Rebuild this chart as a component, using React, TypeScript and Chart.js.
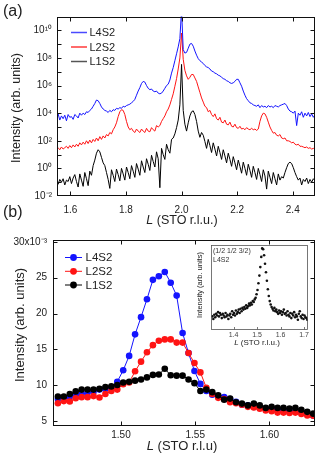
import { useEffect, useRef } from 'react';
import { Chart, registerables } from 'chart.js';

Chart.register(...registerables);

// ---------- Panel (a): L scans, log10 of intensity ----------
const L_A = [
  1.550,1.556,1.562,1.568,1.574,1.580,1.586,1.592,1.598,1.604,
  1.610,1.616,1.622,1.628,1.634,1.640,1.646,1.652,1.658,1.664,
  1.670,1.676,1.682,1.688,1.694,1.700,1.706,1.712,1.718,1.724,
  1.730,1.736,1.742,1.748,1.754,1.760,1.766,1.772,1.778,1.784,
  1.790,1.796,1.802,1.808,1.814,1.820,1.826,1.832,1.838,1.844,
  1.850,1.856,1.862,1.868,1.874,1.880,1.886,1.892,1.898,1.904,
  1.910,1.916,1.922,1.928,1.934,1.940,1.946,1.952,1.958,1.964,
  1.970,1.976,1.982,1.988,1.994,2.000,2.006,2.012,2.018,2.024,
  2.030,2.036,2.042,2.048,2.054,2.060,2.066,2.072,2.078,2.084,
  2.090,2.096,2.102,2.108,2.114,2.120,2.126,2.132,2.138,2.144,
  2.150,2.156,2.162,2.168,2.174,2.180,2.186,2.192,2.198,2.204,
  2.210,2.216,2.222,2.228,2.234,2.240,2.246,2.252,2.258,2.264,
  2.270,2.276,2.282,2.288,2.294,2.300,2.306,2.312,2.318,2.324,
  2.330,2.336,2.342,2.348,2.354,2.360,2.366,2.372,2.378,2.384,
  2.390,2.396,2.402,2.408,2.414,2.420,2.426,2.432,2.438,2.444,
  2.450,2.456,2.462,2.468,2.474,2.480,
];

const L4S2_LOG = [
  3.7,3.95,3.5,3.8,3.6,3.85,3.45,3.9,3.7,3.75,
  3.55,3.9,3.8,3.65,4.0,3.85,4.0,3.9,4.1,4.05,
  4.2,4.3,4.5,4.7,4.95,4.9,4.7,4.45,4.3,4.2,
  4.15,4.05,4.2,4.1,4.25,4.2,4.35,4.3,4.4,4.35,
  4.5,4.45,4.55,4.6,4.65,4.75,4.85,5.0,5.3,5.6,
  5.85,6.15,6.3,6.25,6.0,5.8,5.7,5.75,5.6,5.55,
  5.6,5.45,5.4,5.45,5.6,5.8,6.0,6.1,6.4,6.9,
  7.3,7.8,8.3,8.8,9.4,11.5,8.6,8.35,8.4,8.7,
  9.0,9.05,8.85,8.5,8.2,7.95,7.8,7.7,7.6,7.45,
  7.35,7.3,7.2,7.05,7.0,6.9,6.85,6.75,6.7,6.6,
  6.5,6.45,6.35,6.3,6.2,6.15,6.2,6.3,6.45,6.45,
  6.2,5.95,5.6,5.3,5.05,4.9,4.75,4.7,4.6,4.55,
  4.5,4.6,4.4,4.55,4.45,4.5,4.4,4.55,4.45,4.5,
  4.4,4.55,4.5,4.45,4.55,4.6,4.65,4.7,4.55,4.3,
  4.15,4.1,4.0,4.15,3.1,4.0,3.85,4.1,3.7,4.0,
  3.8,4.05,3.75,3.95,3.7,3.9,
];

const L2S2_LOG = [
  1.4,1.5,1.35,1.55,1.4,1.5,1.6,1.45,1.65,1.5,
  1.7,1.55,1.75,1.6,1.85,1.7,1.9,1.75,2.0,1.8,
  2.05,1.85,2.1,1.95,2.2,2.0,2.3,2.1,2.35,2.2,
  2.45,2.35,2.6,2.5,2.8,3.0,3.3,3.75,4.1,4.25,
  4.2,3.9,3.4,3.0,2.8,2.9,2.7,2.6,2.85,2.7,
  2.6,2.85,2.7,2.6,2.9,2.7,2.65,2.95,2.8,2.7,
  3.1,3.0,3.1,3.4,3.6,3.8,4.1,4.3,4.6,5.0,
  5.4,5.95,6.5,7.2,8.0,9.8,7.9,7.1,6.7,6.45,
  6.6,6.8,6.8,6.55,6.3,5.9,5.5,5.1,4.8,4.5,
  4.4,4.1,4.2,3.9,3.75,3.95,3.6,3.5,3.7,3.35,
  3.3,3.5,3.2,3.15,3.35,3.05,3.0,3.2,2.95,2.9,
  3.05,2.85,2.9,2.8,2.95,2.85,2.8,2.9,2.8,2.85,
  2.75,2.85,3.4,3.8,4.0,3.95,3.7,3.35,3.0,2.75,
  2.55,2.6,2.4,2.35,2.45,2.2,2.15,2.2,2.0,2.0,
  1.95,1.85,1.9,1.75,1.7,1.75,1.6,1.6,1.55,1.5,
  1.55,1.45,1.5,1.4,1.45,1.4,
];

const L1S2_LOG = [
  -0.9,-1.15,-0.8,-1.0,-0.75,-1.2,-0.85,-0.95,-0.6,-1.1,
  -0.7,-0.45,-0.95,-1.35,-0.4,-0.85,-1.3,-0.3,-0.75,-1.25,
  -0.2,-0.5,0.2,0.6,1.1,1.35,1.2,0.8,0.4,0.2,
  -0.3,-0.8,-1.45,-0.1,-0.5,-0.95,-0.05,-0.45,-0.9,0.0,
  -0.4,-0.85,0.1,-0.3,-0.75,0.2,-0.2,-0.65,0.35,-0.05,
  -0.5,0.55,0.1,-0.3,0.7,0.3,-0.15,0.95,0.5,0.1,
  1.2,0.7,-1.4,1.45,1.0,0.65,1.75,1.35,1.1,2.1,
  2.2,2.5,2.95,3.5,4.6,7.53,4.2,3.2,2.7,3.3,
  3.8,4.1,4.17,3.9,3.4,2.7,2.25,2.6,2.4,1.95,
  1.45,2.1,1.65,1.15,1.85,1.4,0.9,1.6,1.15,0.65,
  1.35,0.9,0.4,1.1,0.65,0.15,0.85,0.4,-0.1,0.6,
  0.15,-0.35,0.45,0.0,-0.5,0.3,-0.15,-0.65,0.15,-0.3,
  -0.8,0.0,-0.45,-0.95,-0.1,-0.55,-1.5,-0.2,-0.65,-1.1,
  -0.3,-0.75,-1.2,-0.4,-0.85,-0.6,-0.7,-0.3,0.05,0.35,
  0.45,0.35,0.05,-0.3,-0.6,-0.85,-0.7,-1.2,-0.8,-0.95,
  -0.7,-1.1,-0.8,-1.0,-0.75,-0.9,
];

const X_TICKS_A = [1.6, 1.8, 2.0, 2.2, 2.4];
const Y_LABEL_EXP_A = [-2, 0, 2, 4, 6, 8, 10];
const Y_DECADES_A = [-1, 0, 1, 2, 3, 4, 5, 6, 7, 8, 9, 10];

// ---------- Panel (b): (1/2 1/2 3/2) scans, intensity x10^-3 ----------
const L_B = [
  1.4575,1.4615,1.4655,1.4695,1.4735,1.4775,1.4815,1.4855,1.4895,1.4935,
  1.4975,1.5015,1.5055,1.5095,1.5135,1.5175,1.5215,1.5255,1.5295,1.5335,
  1.5375,1.5415,1.5455,1.5495,1.5535,1.5575,1.5615,1.5655,1.5695,1.5735,
  1.5775,1.5815,1.5855,1.5895,1.5935,1.5975,1.6015,1.6055,1.6095,1.6135,
  1.6175,1.6215,1.6255,1.6295,
];
const L4S2_B = [
  8.1,8.2,8.4,8.6,8.8,9.0,9.1,9.4,9.5,9.65,
  10.5,12.1,14.1,17.1,19.5,22.0,24.7,25.2,25.8,24.3,
  22.5,17.3,14.5,12.0,10.2,9.2,8.7,8.45,8.35,8.1,
  7.7,7.3,7.2,7.0,6.85,6.7,6.6,6.6,6.5,6.4,
  6.3,6.2,6.0,5.8,
];
const L2S2_B = [
  7.5,7.8,7.75,8.2,8.35,8.35,8.5,8.3,8.8,9.2,
  9.4,10.15,10.4,11.95,13.3,14.6,15.6,16.2,16.4,16.4,
  15.95,15.95,14.5,13.1,11.8,9.65,8.8,8.25,8.1,7.65,
  7.5,7.3,7.0,6.9,6.75,6.5,6.4,6.2,6.2,6.15,
  6.2,6.0,5.8,5.75,
];
const L1S2_B = [
  8.45,8.45,8.8,9.15,9.4,9.4,9.4,9.5,9.75,9.85,
  10.05,10.4,10.5,10.65,10.8,11.1,11.45,11.5,12.3,11.4,
  11.35,11.35,10.8,10.3,9.2,9.4,9.05,8.6,8.0,8.15,
  7.65,7.45,7.2,7.45,7.2,6.85,7.0,6.85,6.85,6.75,
  6.85,6.6,6.3,6.05,
];
const X_TICKS_B = [1.5, 1.55, 1.6];
const Y_TICKS_B = [5, 10, 15, 20, 25, 30];

// ---------- Inset: L4S2 wide scan (arb. units) ----------
const L_INSET = [
  1.310,1.314,1.318,1.322,1.326,1.330,1.334,1.338,1.342,1.346,
  1.350,1.354,1.358,1.362,1.366,1.370,1.374,1.378,1.382,1.386,
  1.390,1.394,1.398,1.402,1.406,1.410,1.414,1.418,1.422,1.426,
  1.430,1.434,1.438,1.442,1.446,1.450,1.454,1.458,1.462,1.466,
  1.470,1.474,1.478,1.482,1.486,1.490,1.494,1.498,1.502,1.506,
  1.510,1.514,1.518,1.522,1.526,1.530,1.534,1.538,1.542,1.546,
  1.550,1.554,1.558,1.562,1.566,1.570,1.574,1.578,1.582,1.586,
  1.590,1.594,1.598,1.602,1.606,1.610,1.614,1.618,1.622,1.626,
  1.630,1.634,1.638,1.642,1.646,1.650,1.654,1.658,1.662,1.666,
  1.670,1.674,1.678,1.682,1.686,1.690,1.694,1.698,1.702,1.706,
  1.710,1.714,
];
const INSET_I = [
  16,13,18,15,19,17,21,16,20,18,
  14,19,17,15,20,16,18,13,17,19,
  15,22,18,20,17,23,19,21,24,20,
  25,22,26,24,27,25,29,26,28,31,
  29,32,30,34,33,36,38,42,47,55,
  64,74,86,96,95,88,78,68,58,48,
  40,34,30,27,25,23,26,22,24,21,
  19,23,20,22,18,21,24,19,20,17,
  22,18,16,20,14,19,17,21,15,18,
  16,12,19,22,16,14,18,13,17,15,
  14,12,
];
const X_TICKS_INSET = [1.4, 1.5, 1.6, 1.7];

const SERIES = ['L4S2', 'L2S2', 'L1S2'];
const BLUE = '#1414ff';
const RED = '#ff1414';
const BLACK = '#000000';

const FONT = "'Liberation Sans', Arial, Helvetica, sans-serif";
Chart.defaults.font.family = FONT;
Chart.defaults.color = '#222';

const SUP: Record<string, string> = {
  '-': '\u207B', '0': '\u2070', '1': '\u00B9', '2': '\u00B2', '3': '\u00B3',
  '4': '\u2074', '5': '\u2075', '6': '\u2076', '7': '\u2077', '8': '\u2078', '9': '\u2079',
};
const sup = (s: string) => s.split('').map((c) => SUP[c] ?? c).join('');

function framePlugin(o: {
  xTicks: number[]; yTicks: number[]; len: number; color: string; width: number;
  mirrorX: boolean; mirrorY: boolean; yLeftTicks?: boolean;
}) {
  return {
    id: 'frameTicks',
    afterDatasetsDraw(chart: any) {
      const { ctx, chartArea: a } = chart;
      const xs = chart.scales.x;
      const ys = chart.scales.y;
      const L = Math.round(a.left) + 0.5;
      const R = Math.round(a.right) - 0.5;
      const T = Math.round(a.top) + 0.5;
      const B = Math.round(a.bottom) - 0.5;
      ctx.save();
      ctx.strokeStyle = o.color;
      ctx.lineWidth = o.width;
      ctx.strokeRect(L, T, R - L, B - T);
      ctx.beginPath();
      for (const v of o.xTicks) {
        const p = Math.round(xs.getPixelForValue(v)) + 0.5;
        ctx.moveTo(p, B); ctx.lineTo(p, B - o.len);
        if (o.mirrorX) { ctx.moveTo(p, T); ctx.lineTo(p, T + o.len); }
      }
      for (const v of o.yTicks) {
        const p = Math.round(ys.getPixelForValue(v)) + 0.5;
        if (o.yLeftTicks !== false) { ctx.moveTo(L, p); ctx.lineTo(L + o.len, p); }
        if (o.mirrorY) { ctx.moveTo(R, p); ctx.lineTo(R - o.len, p); }
      }
      ctx.stroke();
      ctx.restore();
    },
  };
}

function titlesPlugin(o: {
  xItalic: string; xRest: string; xc: number; yc: number; xSize: number;
  yText: string; ycx: number; ycy: number; ySize: number;
}) {
  return {
    id: 'axisTitles',
    afterDraw(chart: any) {
      const ctx = chart.ctx;
      ctx.save();
      ctx.fillStyle = '#222';
      ctx.textBaseline = 'middle';
      ctx.font = `italic ${o.xSize}px ${FONT}`;
      const w1 = ctx.measureText(o.xItalic).width;
      ctx.font = `${o.xSize}px ${FONT}`;
      const w2 = ctx.measureText(o.xRest).width;
      const x0 = o.xc - (w1 + w2) / 2;
      ctx.textAlign = 'left';
      ctx.font = `italic ${o.xSize}px ${FONT}`;
      ctx.fillText(o.xItalic, x0, o.yc);
      ctx.font = `${o.xSize}px ${FONT}`;
      ctx.fillText(o.xRest, x0 + w1, o.yc);
      ctx.translate(o.ycx, o.ycy);
      ctx.rotate(-Math.PI / 2);
      ctx.textAlign = 'center';
      ctx.font = `${o.ySize}px ${FONT}`;
      ctx.fillText(o.yText, 0, 0);
      ctx.restore();
    },
  };
}

function legendPlugin(o: {
  labels: string[]; colors: string[]; lineColors: string[]; x0: number; x1: number; tx: number;
  ys: number[]; size: number; marker: number; lineWidth: number;
}) {
  return {
    id: 'insideLegend',
    afterDraw(chart: any) {
      const ctx = chart.ctx;
      ctx.save();
      ctx.textBaseline = 'middle';
      ctx.textAlign = 'left';
      ctx.font = `${o.size}px ${FONT}`;
      o.labels.forEach((lab, i) => {
        const y = o.ys[i];
        ctx.strokeStyle = o.lineColors[i];
        ctx.lineWidth = o.lineWidth;
        ctx.beginPath();
        ctx.moveTo(o.x0, y);
        ctx.lineTo(o.x1, y);
        ctx.stroke();
        if (o.marker > 0) {
          ctx.fillStyle = o.colors[i];
          ctx.beginPath();
          ctx.arc((o.x0 + o.x1) / 2, y, o.marker, 0, Math.PI * 2);
          ctx.fill();
        }
        ctx.fillStyle = '#222';
        ctx.fillText(lab, o.tx, y + 0.5);
      });
      ctx.restore();
    },
  };
}

function notesPlugin(o: { lines: string[]; x: number; ys: number[]; size: number }) {
  return {
    id: 'notes',
    afterDraw(chart: any) {
      const ctx = chart.ctx;
      ctx.save();
      ctx.fillStyle = '#333';
      ctx.textBaseline = 'middle';
      ctx.textAlign = 'left';
      ctx.font = `${o.size}px ${FONT}`;
      o.lines.forEach((t, i) => ctx.fillText(t, o.x, o.ys[i]));
      ctx.restore();
    },
  };
}

const pairs = (xs: number[], ys: number[]) => xs.map((x, i) => ({ x, y: ys[i] }));
const pow10 = (xs: number[], ys: number[]) => xs.map((x, i) => ({ x, y: Math.pow(10, ys[i]) }));

function configA(): any {
  const logs = [L4S2_LOG, L2S2_LOG, L1S2_LOG];
  const cols = [BLUE, RED, BLACK];
  return {
    type: 'line',
    data: {
      datasets: SERIES.map((s, i) => ({
        label: s,
        data: pow10(L_A, logs[i]),
        borderColor: cols[i],
        borderWidth: 1,
        pointRadius: 0,
        tension: 0,
        order: i,
      })),
    },
    options: {
      responsive: false,
      animation: false,
      events: [],
      layout: { padding: { top: 16.5, right: 4, left: 0, bottom: 0 } },
      plugins: { legend: { display: false }, tooltip: { enabled: false } },
      scales: {
        x: {
          type: 'linear', min: 1.552, max: 2.48,
          afterBuildTicks: (s: any) => { s.ticks = X_TICKS_A.map((v) => ({ value: v })); },
          afterFit: (s: any) => { s.height = 34; },
          grid: { display: false, drawTicks: false },
          border: { display: false },
          ticks: { padding: 8, font: { size: 10 }, color: '#222', maxRotation: 0, autoSkip: false,
            callback: (v: any) => Number(v).toFixed(1) },
        },
        y: {
          type: 'logarithmic', min: 1e-2, max: 1e11,
          afterBuildTicks: (s: any) => { s.ticks = Y_LABEL_EXP_A.map((e) => ({ value: Math.pow(10, e) })); },
          afterFit: (s: any) => { s.width = 57; },
          grid: { display: false, drawTicks: false },
          border: { display: false },
          ticks: { padding: 5, font: { size: 10 }, color: '#222', autoSkip: false,
            callback: (v: any) => '10' + sup(String(Math.round(Math.log10(Number(v))))) },
        },
      },
    },
    plugins: [
      framePlugin({ xTicks: X_TICKS_A, yTicks: Y_DECADES_A.map((e) => Math.pow(10, e)), len: 4,
        color: '#111', width: 1, mirrorX: true, mirrorY: true }),
      titlesPlugin({ xItalic: 'L', xRest: ' (STO r.l.u.)', xc: 182, yc: 221, xSize: 12.5,
        yText: 'Intensity (arb. units)', ycx: 17, ycy: 108, ySize: 12.5 }),
      legendPlugin({ labels: SERIES, colors: cols, lineColors: ['#4a4aff', '#ff3a3a', '#555'],
        x0: 71, x1: 87, tx: 89.5, ys: [32.5, 47, 61.5], size: 11, marker: 0, lineWidth: 1.5 }),
    ],
  };
}

function configB(): any {
  const vals = [L4S2_B, L2S2_B, L1S2_B];
  const cols = [BLUE, RED, BLACK];
  return {
    type: 'line',
    data: {
      datasets: SERIES.map((s, i) => ({
        label: s,
        data: pairs(L_B, vals[i]),
        borderColor: cols[i],
        backgroundColor: cols[i],
        pointBackgroundColor: cols[i],
        pointBorderWidth: 0,
        pointRadius: 3.3,
        borderWidth: 1,
        tension: 0,
        order: 3 - i,
      })),
    },
    options: {
      responsive: false,
      animation: false,
      events: [],
      layout: { padding: { top: 14, right: 4, left: 0, bottom: 0 } },
      plugins: { legend: { display: false }, tooltip: { enabled: false } },
      scales: {
        x: {
          type: 'linear', min: 1.4542, max: 1.6307,
          afterBuildTicks: (s: any) => { s.ticks = X_TICKS_B.map((v) => ({ value: v })); },
          afterFit: (s: any) => { s.height = 32.5; },
          grid: { display: false, drawTicks: false },
          border: { display: false },
          ticks: { padding: 4, font: { size: 10 }, color: '#222', maxRotation: 0, autoSkip: false,
            callback: (v: any) => Number(v).toFixed(2) },
        },
        y: {
          type: 'linear', min: 4.4, max: 30.25,
          afterBuildTicks: (s: any) => { s.ticks = Y_TICKS_B.map((v) => ({ value: v })); },
          afterFit: (s: any) => { s.width = 53; },
          grid: { display: false, drawTicks: false },
          border: { display: false },
          ticks: { padding: 6, font: { size: 10 }, color: '#222', autoSkip: false,
            callback: (v: any) => (Number(v) === 30 ? '30x10' + sup('-3') : String(v)) },
        },
      },
    },
    plugins: [
      framePlugin({ xTicks: X_TICKS_B, yTicks: Y_TICKS_B, len: 4, color: '#111', width: 1,
        mirrorX: true, mirrorY: true }),
      titlesPlugin({ xItalic: 'L', xRest: ' (STO r.l.u)', xc: 182, yc: 220.5, xSize: 13,
        yText: 'Intensity (arb. units)', ycx: 20, ycy: 99, ySize: 13 }),
      legendPlugin({ labels: SERIES, colors: cols, lineColors: cols,
        x0: 65, x1: 82, tx: 85.5, ys: [31.5, 45.3, 59], size: 11.5, marker: 3.4, lineWidth: 1 }),
    ],
  };
}

function configInset(): any {
  return {
    type: 'scatter',
    data: {
      datasets: [{
        label: 'L4S2',
        data: pairs(L_INSET, INSET_I),
        backgroundColor: '#111',
        borderWidth: 0,
        pointRadius: 1.3,
        showLine: false,
      }],
    },
    options: {
      responsive: false,
      animation: false,
      events: [],
      layout: { padding: { top: 5, right: 7, left: 0, bottom: 0 } },
      plugins: { legend: { display: false }, tooltip: { enabled: false } },
      scales: {
        x: {
          type: 'linear', min: 1.304, max: 1.717,
          afterBuildTicks: (s: any) => { s.ticks = X_TICKS_INSET.map((v) => ({ value: v })); },
          afterFit: (s: any) => { s.height = 20; },
          grid: { display: false, drawTicks: false },
          border: { display: false },
          ticks: { padding: 1, font: { size: 7 }, color: '#444', maxRotation: 0, autoSkip: false,
            callback: (v: any) => Number(v).toFixed(1) },
        },
        y: {
          type: 'linear', min: 0, max: 100,
          afterFit: (s: any) => { s.width = 21; },
          grid: { display: false, drawTicks: false },
          border: { display: false },
          ticks: { display: false },
        },
      },
    },
    plugins: [
      framePlugin({ xTicks: X_TICKS_INSET, yTicks: [], len: 2.5, color: '#555', width: 0.8,
        mirrorX: false, mirrorY: false }),
      titlesPlugin({ xItalic: 'L', xRest: ' (STO r.l.u.)', xc: 67, yc: 102.5, xSize: 8,
        yText: 'Intensity (arb. units)', ycx: 9.5, ycy: 45, ySize: 7.5 }),
      notesPlugin({ lines: ['(1/2 1/2 3/2)', 'L4S2'], x: 23, ys: [11.5, 20.5], size: 7 }),
    ],
  };
}

export default function App() {
  const aRef = useRef<HTMLCanvasElement>(null);
  const bRef = useRef<HTMLCanvasElement>(null);
  const cRef = useRef<HTMLCanvasElement>(null);

  useEffect(() => {
    const charts = [
      new Chart(aRef.current as HTMLCanvasElement, configA()),
      new Chart(bRef.current as HTMLCanvasElement, configB()),
      new Chart(cRef.current as HTMLCanvasElement, configInset()),
    ];
    return () => charts.forEach((c) => c.destroy());
  }, []);

  const label: any = {
    position: 'absolute', left: 3, fontSize: 16, lineHeight: '16px', color: '#222', fontFamily: FONT,
  };

  return (
    <div style={{ position: 'absolute', left: 0, top: 0, width: 319, height: 458, background: '#fff', overflow: 'hidden' }}>
      <canvas ref={aRef} width={319} height={230} style={{ position: 'absolute', left: 0, top: 0, width: 319, height: 230 }} />
      <canvas ref={bRef} width={319} height={232} style={{ position: 'absolute', left: 0, top: 226, width: 319, height: 232 }} />
      <canvas ref={cRef} width={125} height={110} style={{ position: 'absolute', left: 190, top: 240, width: 125, height: 110 }} />
      <div style={{ ...label, top: 3 }}>(a)</div>
      <div style={{ ...label, top: 204 }}>(b)</div>
    </div>
  );
}
